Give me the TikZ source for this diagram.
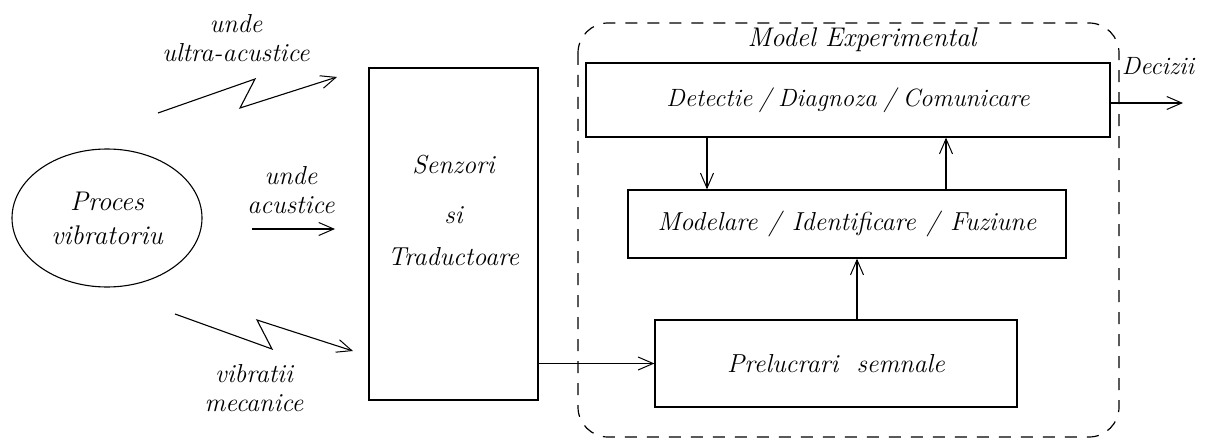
\documentclass[tikz,border=0pt]{standalone}
\usetikzlibrary{arrows.meta,shapes.geometric}
\newcommand{\sepA}{\hspace{6.7pt}/\hspace{6.7pt}}
\newcommand{\sepB}{\hspace{10.7pt}/\hspace{10.7pt}}
\tikzset{
  txt/.style={font=\fontsize{26}{29}\selectfont\itshape, align=center, inner sep=0pt},
  blk/.style={draw, rectangle, line width=1.3pt, inner sep=0pt, txt},
  arr/.style={line width=1.1pt, -{Straight Barb[length=15pt,width=13pt,line width=1pt]}},
  zig/.style={line width=1.1pt, line join=miter, -{Straight Barb[length=15pt,width=13pt,line width=1pt]}},
  frame/.style={draw, line width=1.2pt, dash pattern=on 12pt off 10pt, rounded corners=30pt}
}
\begin{document}
\begin{tikzpicture}[x=1pt,y=-1pt]
\useasboundingbox (0,0) rectangle (1210,441);

% dashed frame of the experimental model
\draw[frame] (578,23) rectangle (1119,437);
\node[txt, font=\fontsize{27}{29}\selectfont\itshape] (mtitle) at (862,40) {Model Experimental};

% source process
\node[draw, ellipse, line width=1.1pt, minimum width=190pt, minimum height=138pt,
      txt, font=\fontsize{27}{34}\selectfont\itshape] (proc) at (107,218) {Proces\\vibratoriu};

% sensors block
\node[draw, rectangle, line width=1.3pt, minimum width=169pt, minimum height=332pt] (senz) at (453.5,234) {};
\node[txt, anchor=base] (s1) at (453.5,173) {Senzori};
\node[txt, anchor=base] (s2) at (453.5,223) {si};
\node[txt, anchor=base] (s3) at (453.5,265) {Traductoare};

% processing chain
\node[blk, minimum width=524pt, minimum height=74pt, font=\fontsize{25}{29}\selectfont\itshape] (det) at (848,100) {Detectie\sepA Diagnoza\sepA Comunicare};
\node[blk, minimum width=438pt, minimum height=68pt] (mod) at (847,224) {Modelare\sepB Identificare\sepB Fuziune};
\node[blk, minimum width=362pt, minimum height=87pt] (prel) at (836,363.5) {Prelucrari~~semnale};

% signal labels
\node[txt] (l1) at (236,38) {unde\\ultra-acustice};
\node[txt] (l2) at (291,190) {unde\\acustice};
\node[txt] (l3) at (254,388) {vibratii\\mecanice};
\node[txt, font=\fontsize{25}{29}\selectfont\itshape] (l4) at (1158,66) {Decizii};

% free ends of the signal arrows
\coordinate (u0) at (158,113);
\coordinate (u1) at (337,77);
\coordinate (a0) at (252,229);
\coordinate (a1) at (335,229);
\coordinate (v0) at (175,314);
\coordinate (v1) at (353,351);
\coordinate (dout) at (1183,103);
\coordinate (xd) at (707,0);
\coordinate (xu) at (946,0);
\coordinate (xp) at (857,0);

% incoming signals
\draw[zig] (u0) -- (255,79) -- (240,108) -- (u1);
\draw[arr] (a0) -- (a1);
\draw[zig] (v0) -- (272,349) -- (257,320) -- (v1);

% data flow
\draw[arr] (senz.east |- prel.west) -- (prel.west);
\draw[arr] (xp |- prel.north) -- (xp |- mod.south);
\draw[arr] (xd |- det.south) -- (xd |- mod.north);
\draw[arr] (xu |- mod.north) -- (xu |- det.south);
\draw[arr] (det.east |- dout) -- (dout);
\end{tikzpicture}
\end{document}
